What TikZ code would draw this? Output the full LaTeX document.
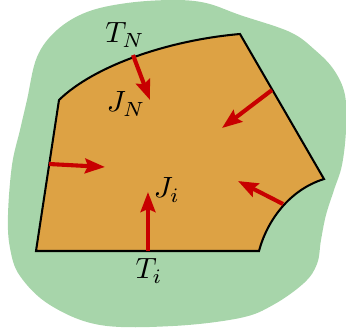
\documentclass[tikz,border=0pt]{standalone}
\usetikzlibrary{arrows.meta}
\definecolor{blobgreen}{RGB}{167,213,170}
\definecolor{cellorange}{RGB}{221,162,68}
\definecolor{fluxred}{RGB}{200,0,0}
\begin{document}
\begin{tikzpicture}[x=0.012cm,y=-0.012cm,
  flux/.style={draw=fluxred, line width=1.4pt, -{Stealth[length=6.8pt,width=5pt,inset=1pt]}},
  lbl/.style={inner sep=0pt}]
\useasboundingbox (0,0) rectangle (346,331);
% green surrounding region
\fill[blobgreen] plot[smooth cycle, tension=0.6] coordinates {
 (173,0) (206,3) (240,15) (290,32) (315,50) (334,70) (345,95) (346,130) (342,165) (334,190) (326,215) (321,240) (317,264) (304,283) (273,305) (240,318) (173,326) (100,325) (50,305) (20,276) (10,248) (8,215) (12,165) (20,130) (27,100) (37,57) (57,30) (87,12) (127,3)};
% cell
\coordinate (A) at (36,251);
\coordinate (B) at (259,251);
\coordinate (C) at (324,179);
\coordinate (D) at (240,34);
\coordinate (E) at (59,100);
\draw[fill=cellorange, line width=0.7pt, line join=miter]
  (A) -- (B) .. controls (267,221) and (289,190) .. (C) -- (D)
  .. controls (170,40) and (95,65) .. (E) -- cycle;
% flux arrows
\coordinate (a1) at (133,55);  \coordinate (b1) at (150,100);
\coordinate (a2) at (272,90);  \coordinate (b2) at (222,128);
\coordinate (a3) at (49,164);  \coordinate (b3) at (105,167);
\coordinate (a4) at (283,204); \coordinate (b4) at (238,181);
\coordinate (a5) at (148,251); \coordinate (b5) at (148,192);
\draw[flux] (a1) -- (b1);
\draw[flux] (a2) -- (b2);
\draw[flux] (a3) -- (b3);
\draw[flux] (a4) -- (b4);
\draw[flux] (a5) -- (b5);
% labels
\node[lbl] (TN) at (125,35) {$T_N$};
\node[lbl] (JN) at (126,104) {$J_N$};
\node[lbl] (Ji) at (167,190) {$J_i$};
\node[lbl] (Ti) at (149,271) {$T_i$};
\end{tikzpicture}
\end{document}
